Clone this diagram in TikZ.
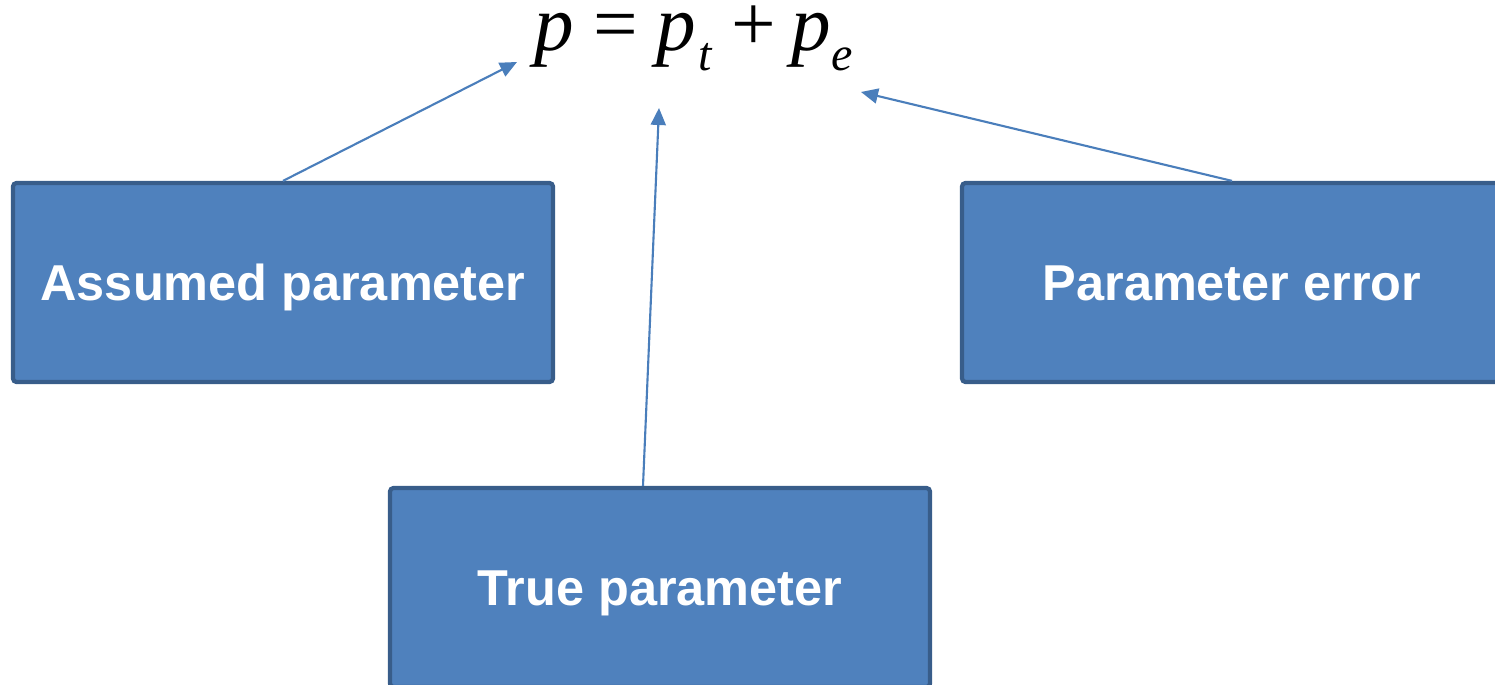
\documentclass[tikz,border=0pt]{standalone}
\usepackage{fontspec}
\setsansfont{Liberation Sans}
\newfontfamily\eqfont{Liberation Serif}
\usepackage{xcolor}
\usepackage{tikz}
\usetikzlibrary{arrows.meta, positioning, calc}
\definecolor{boxBlue}{RGB}{79,129,189}
\definecolor{boxEdge}{RGB}{56,93,138}
\definecolor{lineBlue}{RGB}{74,126,187}
\newcommand{\eqsub}[1]{\raisebox{-0.205cm}{\fontsize{13.7}{14}\selectfont\itshape #1}}
\tikzstyle{param}  = [rectangle, draw=boxEdge, fill=boxBlue, line width=1.2pt,
                      minimum width=5.4cm, minimum height=1.99cm, rounded corners=1pt,
                      text height=0.36cm, text depth=0cm,
                      text=white, font=\sffamily\bfseries\fontsize{14.35}{17}\selectfont, text centered]
\tikzstyle{arrow}  = [-{Triangle[length=0.17cm, width=0.15cm]}, line width=0.6pt, lineBlue]

\begin{document}
\begin{tikzpicture}[
  eq/.style={font=\eqfont\fontsize{22.5}{27}\selectfont, inner sep=0pt}
]
  \useasboundingbox (0,0) rectangle (14.95,6.84);

  % Formula
  \node[eq, anchor=base west] (formula) at (5.34,6.335)
    {\itshape p\kern0.19cm\upshape=\kern0.19cm\itshape p\kern0.02cm\eqsub{t}\kern0.2cm\upshape+\kern0.15cm\itshape p\kern0.01cm\eqsub{e}};
  \coordinate (tipA) at (5.17,6.22);
  \coordinate (tipT) at (6.59,5.76);
  \coordinate (tipE) at (8.61,5.92);

  % Boxes
  \node[param] (assumed) at (2.83,4.015) {Assumed parameter};
  \node[param] (error) at (12.32,4.015) {Parameter error};
  \node[param] (true) at (6.60,0.965) {True parameter};

  % Arrows
  \draw[arrow] (assumed.north) -- (tipA);
  \draw[arrow] ([xshift=-0.17cm]true.north) -- (tipT);
  \draw[arrow] (error.north) -- (tipE);

\end{tikzpicture}
\end{document}
